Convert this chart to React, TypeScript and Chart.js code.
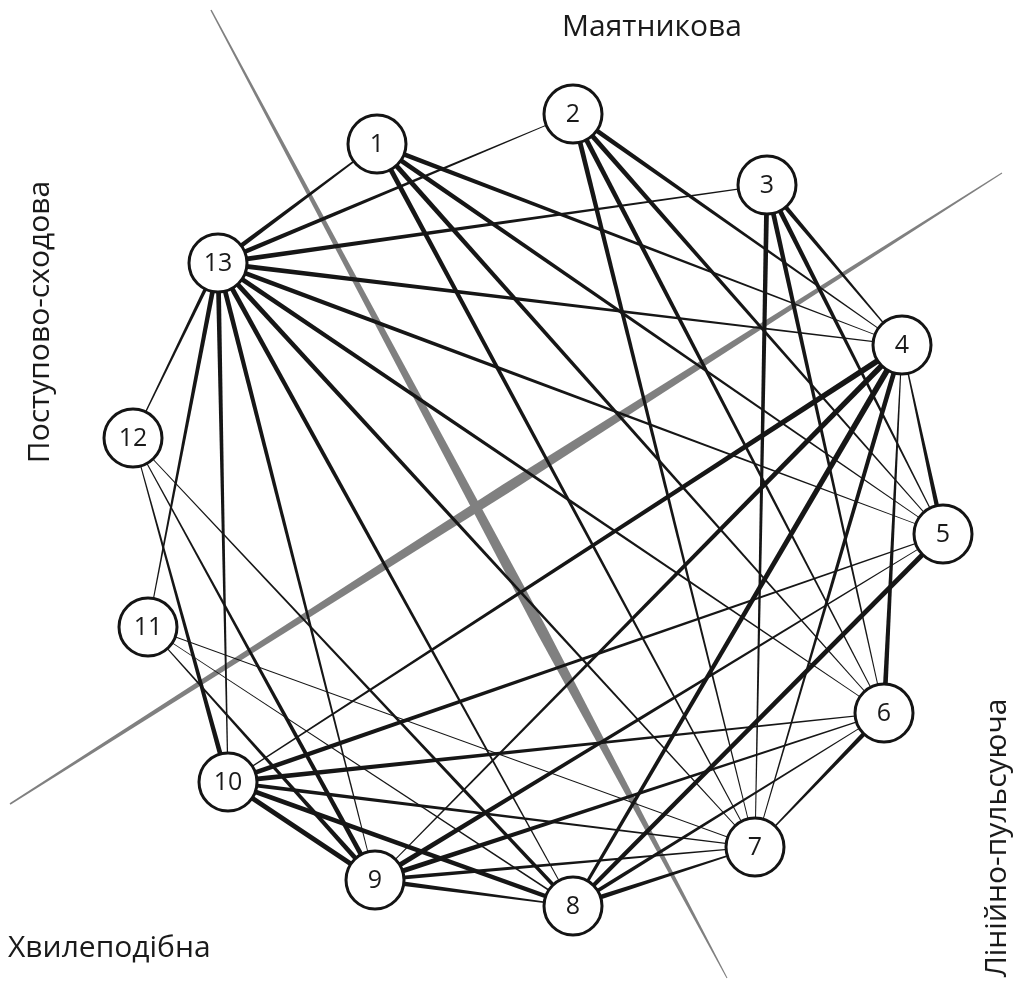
import React, { useEffect, useRef } from "react";
import { Chart, registerables } from "chart.js";

Chart.register(...registerables);

// ---- data ----
const nodeLabels = ["1", "2", "3", "4", "5", "6", "7", "8", "9", "10", "11", "12", "13"];
const nodeX = [377, 573, 767, 902, 943, 884, 755, 573, 375, 228, 148, 133, 218];
const nodeY = [144, 114, 185, 345, 534, 713, 847, 906, 880, 782, 627, 438, 263];

const edgeFrom = [13, 13, 13, 13, 13, 13, 13, 13, 13, 13, 13, 13, 1, 1, 1, 1, 2, 2, 2, 2, 3, 3, 3, 3, 4, 4, 4, 4, 4, 4, 5, 5, 5, 6, 6, 6, 6, 7, 7, 7, 7, 8, 8, 8, 8, 9, 9, 9, 10];
const edgeTo = [1, 2, 3, 4, 5, 6, 7, 8, 9, 10, 11, 12, 4, 5, 6, 7, 4, 5, 6, 7, 4, 5, 6, 7, 5, 6, 7, 8, 9, 10, 8, 9, 10, 7, 8, 9, 10, 8, 9, 10, 11, 9, 10, 11, 12, 10, 11, 12, 12];
const edgeStartWeight = [5, 5, 5, 5, 5, 5, 5, 5, 5, 5, 5, 4, 5, 5, 5, 5, 5, 5, 5, 5, 5, 5, 5, 5, 0.8, 0.8, 5, 6, 6, 6, 5, 0.8, 0.8, 5, 0.8, 0.8, 0.8, 1, 0.8, 0.8, 0.8, 0.8, 4, 1.5, 4, 5, 5, 5, 5];
const edgeEndWeight = [1.2, 0.8, 0.8, 0.8, 0.8, 0.8, 0.8, 0.8, 0.8, 1, 0.8, 0.8, 0.8, 0.8, 0.8, 0.8, 0.8, 0.8, 0.8, 0.8, 0.8, 0.8, 0.8, 0.8, 5, 5, 0.8, 3, 1, 1, 4, 5, 5, 1, 4, 5, 5, 5, 4, 4, 0.8, 5, 5, 0.8, 0.8, 5, 0.8, 0.8, 0.8];

const zoneLabels = ["Маятникова", "Поступово-сходова", "Хвилеподібна", "Лінійно-пульсуюча"];

// separator lines (two gray spindles)
const sepStartX = [211, 10];
const sepStartY = [10, 804];
const sepEndX = [727, 1002];
const sepEndY = [978, 173];

const W = 1015;
const H = 981;

const graphPlugin = {
  id: "graphPlugin",
  beforeDatasetsDraw(chart: any) {
    const ctx = chart.ctx;
    const xs = chart.scales.x;
    const ys = chart.scales.y;
    const px = (v: number) => xs.getPixelForValue(v);
    const py = (v: number) => ys.getPixelForValue(v);

    const spindle = (x1: number, y1: number, x2: number, y2: number, w1: number, wm: number, tm: number, w2: number, color: string) => {
      const ax = px(x1), ay = py(y1), bx = px(x2), by = py(y2);
      const dx = bx - ax, dy = by - ay;
      const len = Math.hypot(dx, dy);
      const nx = -dy / len, ny = dx / len;
      const mx = ax + dx * tm, my = ay + dy * tm;
      ctx.beginPath();
      ctx.moveTo(ax + nx * w1 / 2, ay + ny * w1 / 2);
      ctx.lineTo(mx + nx * wm / 2, my + ny * wm / 2);
      ctx.lineTo(bx + nx * w2 / 2, by + ny * w2 / 2);
      ctx.lineTo(bx - nx * w2 / 2, by - ny * w2 / 2);
      ctx.lineTo(mx - nx * wm / 2, my - ny * wm / 2);
      ctx.lineTo(ax - nx * w1 / 2, ay - ny * w1 / 2);
      ctx.closePath();
      ctx.fillStyle = color;
      ctx.fill();
    };

    ctx.save();
    // gray separators
    spindle(sepStartX[0], sepStartY[0], sepEndX[0], sepEndY[0], 1.5, 11, 0.64, 1, "#808080");
    spindle(sepStartX[1], sepStartY[1], sepEndX[1], sepEndY[1], 1.5, 10, 0.5, 1, "#808080");

    // tapered edges
    for (let i = 0; i < edgeFrom.length; i++) {
      const a = edgeFrom[i] - 1;
      const b = edgeTo[i] - 1;
      const ax = px(nodeX[a]), ay = py(nodeY[a]);
      const bx = px(nodeX[b]), by = py(nodeY[b]);
      const dx = bx - ax, dy = by - ay;
      const len = Math.hypot(dx, dy);
      const nx = -dy / len, ny = dx / len;
      const w1 = edgeStartWeight[i], w2 = edgeEndWeight[i];
      ctx.beginPath();
      ctx.moveTo(ax + nx * w1 / 2, ay + ny * w1 / 2);
      ctx.lineTo(bx + nx * w2 / 2, by + ny * w2 / 2);
      ctx.lineTo(bx - nx * w2 / 2, by - ny * w2 / 2);
      ctx.lineTo(ax - nx * w1 / 2, ay - ny * w1 / 2);
      ctx.closePath();
      ctx.fillStyle = "#161616";
      ctx.fill();
    }
    ctx.restore();
  },
  afterDatasetsDraw(chart: any) {
    const ctx = chart.ctx;
    const meta = chart.getDatasetMeta(0);
    ctx.save();
    ctx.fillStyle = "#1a1a1a";
    ctx.textAlign = "center";
    ctx.textBaseline = "middle";
    ctx.font = "25px 'Open Sans'";
    meta.data.forEach((pt: any, i: number) => {
      ctx.fillText(nodeLabels[i], pt.x, pt.y + 1);
    });

    // zone labels
    ctx.font = "30px 'Open Sans'";
    ctx.textAlign = "center";
    ctx.fillText(zoneLabels[0], 652, 27);
    ctx.textAlign = "left";
    ctx.fillText(zoneLabels[2], 8, 948);

    ctx.save();
    ctx.translate(40, 322);
    ctx.rotate(-Math.PI / 2);
    ctx.textAlign = "center";
    ctx.fillText(zoneLabels[1], 0, 0);
    ctx.restore();

    ctx.save();
    ctx.translate(997, 838);
    ctx.rotate(-Math.PI / 2);
    ctx.textAlign = "center";
    ctx.fillText(zoneLabels[3], 0, 0);
    ctx.restore();
    ctx.restore();
  },
};

export default function App() {
  const ref = useRef<HTMLCanvasElement | null>(null);
  useEffect(() => {
    if (!ref.current) return;
    const chart = new Chart(ref.current, {
      type: "scatter",
      data: {
        datasets: [
          {
            data: nodeX.map((x, i) => ({ x, y: nodeY[i] })),
            pointRadius: 29,
            pointHoverRadius: 29,
            backgroundColor: "#ffffff",
            borderColor: "#141414",
            borderWidth: 3,
          },
        ],
      },
      options: {
        animation: false,
        responsive: false,
        devicePixelRatio: 1,
        layout: { padding: 0, autoPadding: false },
        plugins: { legend: { display: false }, tooltip: { enabled: false } },
        scales: {
          x: { type: "linear", min: 0, max: W, display: false },
          y: { type: "linear", min: 0, max: H, reverse: true, display: false },
        },
        events: [],
      },
      plugins: [graphPlugin],
    });
    return () => chart.destroy();
  }, []);
  return (
    <div style={{ position: "absolute", left: 0, top: 0, width: W, height: H, background: "#fff" }}>
      <canvas ref={ref} width={W} height={H} style={{ width: W, height: H, display: "block" }} />
    </div>
  );
}
